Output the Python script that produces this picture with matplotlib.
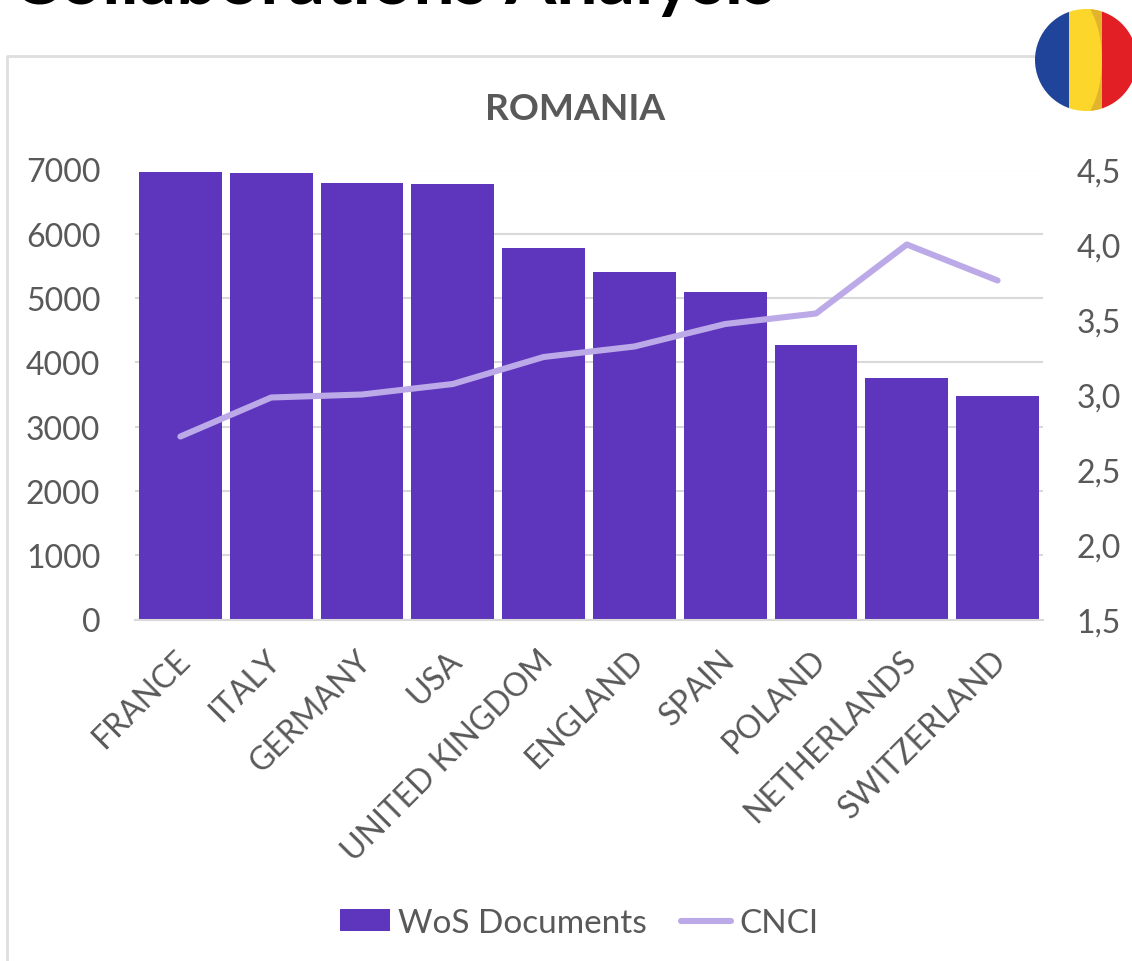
import matplotlib
matplotlib.use("Agg")
import matplotlib.pyplot as plt
from matplotlib.patches import Circle, Rectangle, PathPatch
from matplotlib.path import Path
from matplotlib.transforms import ScaledTranslation

# data
countries = ["FRANCE", "ITALY", "GERMANY", "USA", "UNITED KINGDOM", "ENGLAND",
             "SPAIN", "POLAND", "NETHERLANDS", "SWITZERLAND"]
wos_docs = [6965, 6950, 6785, 6770, 5785, 5410, 5095, 4270, 3760, 3480]
cnci = [2.72, 2.98, 3.00, 3.07, 3.25, 3.32, 3.47, 3.54, 4.00, 3.76]
left_ticks = [0, 1000, 2000, 3000, 4000, 5000, 6000, 7000]
right_ticks = [1.5, 2.0, 2.5, 3.0, 3.5, 4.0, 4.5]

W, H = 1132, 962
BAR_COLOR = "#5e35bd"
LINE_COLOR = "#bcaae8"
TEXT_COLOR = "#595959"
TICK_SIZE = 23

plt.rcParams["font.family"] = ["Lato", "DejaVu Sans"]

fig = plt.figure(figsize=(W / 100, H / 100), dpi=100, facecolor="white")

# pixel canvas for the slide bits around the chart
bg = fig.add_axes([0, 0, 1, 1])
bg.set_xlim(0, W)
bg.set_ylim(H, 0)
bg.axis("off")
bg.plot([7, 7, W], [H, 57, 57], color="#dedede", lw=2)
bg.text(11, 4, "Collaborations Analysis", fontsize=53, fontweight="bold",
        color="black", va="baseline", ha="left", clip_on=False)

# main chart
ax = fig.add_axes([135 / W, 1 - 620.5 / H, 908 / W, 450 / H])
ax.patch.set_alpha(0)
x = range(len(countries))
ax.bar(x, wos_docs, width=0.91, color=BAR_COLOR, label="WoS Documents", zorder=2)
ax.set_xlim(-0.5, 9.5)
ax.set_ylim(0, 7000)
ax.set_yticks(left_ticks)
ax.grid(axis="y", color="#d9d9d9", lw=1.5, zorder=0)
ax.set_axisbelow(True)
for s in ["top", "left", "right"]:
    ax.spines[s].set_visible(False)
ax.spines["bottom"].set_color("#d9d9d9")
ax.spines["bottom"].set_linewidth(1.5)
ax.tick_params(axis="y", length=0, labelsize=TICK_SIZE, labelcolor=TEXT_COLOR, pad=25)
ax.tick_params(axis="x", length=0, labelsize=TICK_SIZE, labelcolor=TEXT_COLOR, pad=18)
ax.set_xticks(list(x))
ax.set_xticklabels(countries, rotation=45, ha="right", va="top", rotation_mode="anchor")
# nudge the slanted labels left, Excel anchors them a bit before the bar centre
nudge = ScaledTranslation(-6 / 100, 0, fig.dpi_scale_trans)
for lab in ax.get_xticklabels():
    lab.set_transform(lab.get_transform() + nudge)

ax2 = ax.twinx()
ax2.plot(x, cnci, color=LINE_COLOR, lw=4.4, solid_capstyle="round",
         solid_joinstyle="round", label="CNCI")
ax2.set_ylim(1.5, 4.5)
ax2.set_yticks(right_ticks)
ax2.set_yticklabels([f"{v:.1f}".replace(".", ",") for v in right_ticks])
for s in ax2.spines.values():
    s.set_visible(False)
ax2.tick_params(axis="y", length=0, labelsize=TICK_SIZE, labelcolor=TEXT_COLOR, pad=24)

bg.text(575, 109, "ROMANIA", fontsize=26.7, fontweight="bold", color=TEXT_COLOR,
        ha="center", va="center")

# legend
h1, l1 = ax.get_legend_handles_labels()
h2, l2 = ax2.get_legend_handles_labels()
fig.legend(h1 + h2, l1 + l2, loc="center", bbox_to_anchor=(579 / W, 1 - 924 / H),
           ncol=2, frameon=False, fontsize=24, labelcolor=TEXT_COLOR,
           handlelength=1.5, handleheight=0.62, handletextpad=0.24, columnspacing=1.05)

# flag, on top of everything
top = fig.add_axes([0, 0, 1, 1])
top.set_xlim(0, W)
top.set_ylim(H, 0)
top.axis("off")
top.patch.set_alpha(0)
clip = Circle((1086, 61), 51, transform=top.transData)
for x0, x1, c in [(1030, 1069, "#1f4499"), (1069, 1102, "#fdd62b"), (1102, 1140, "#e31f26")]:
    r = Rectangle((x0, 0), x1 - x0, 120, color=c, lw=0)
    top.add_patch(r)
    r.set_clip_path(clip)
shade = PathPatch(Path([(1090, 10), (1102, 10), (1102, 112), (1090, 112), (1106, 85), (1106, 37), (1090, 10)],
                       [Path.MOVETO, Path.LINETO, Path.LINETO, Path.LINETO, Path.CURVE4, Path.CURVE4, Path.CURVE4]),
                  color="#e0b52c", lw=0)
top.add_patch(shade)
shade.set_clip_path(clip)

fig.savefig("out.png", dpi=100)
